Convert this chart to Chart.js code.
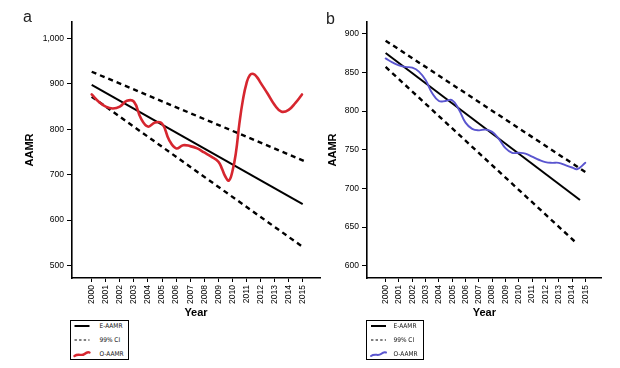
<!DOCTYPE html>
<html>
<head>
<meta charset="utf-8">
<script src="https://cdn.jsdelivr.net/npm/chart.js@4"></script>
<style>
  html, body { margin: 0; padding: 0; background: #fff; }
  body { width: 620px; height: 368px; position: relative; overflow: hidden; font-family: "Liberation Sans", Arial, sans-serif; }
  canvas { position: absolute; top: 0; }
  .panel { position: absolute; font-size: 16px; color: #222; }
  .legend { position: absolute; border: 1.5px solid #000; box-sizing: border-box; background: #fff; }
  .legend .row { position: absolute; left: 0; font-family: "Liberation Sans Narrow", "DejaVu Sans Condensed", "Liberation Sans", sans-serif; font-size: 6.5px; line-height: 8px; color: #111; }
  .legend svg { position: absolute; left: 0; top: 0; }
</style>
</head>
<body>
<canvas id="ca" width="325" height="330" style="left:0px"></canvas>
<canvas id="cb" width="290" height="330" style="left:320px"></canvas>
<div class="panel" style="left:23px;top:8px;">a</div>
<div class="panel" style="left:326px;top:10px;">b</div>

<div class="legend" id="legA" style="left:70px;top:320px;width:59px;height:40px;"></div>
<div class="legend" id="legB" style="left:366px;top:320px;width:58px;height:40px;"></div>

<script>
// ---------------- data ----------------
const xTickYears = [2000,2001,2002,2003,2004,2005,2006,2007,2008,2009,2010,2011,2012,2013,2014,2015];
const yTicksA = [500, 600, 700, 800, 900, 1000];
const yTicksB = [600, 650, 700, 750, 800, 850, 900];

// Panel a: expected trend and 99% CI (straight lines, endpoints)
const eYearsA = [2000, 2015];
const eAAMR_A = [898, 635];
const ciUpYearsA = [2000, 2015.2];
const ciUpA = [927, 729];
const ciLoYearsA = [2000, 2014.9];
const ciLoA = [872, 543];

const oYearsA = [2000,2000.5,2001,2001.5,2002,2002.5,2003,2003.5,2004,2004.5,2005,2005.5,2006,2006.5,2007,2007.5,2008,2008.5,2009,2009.25,2009.5,2009.75,2010,2010.25,2010.5,2010.75,2011,2011.25,2011.5,2011.75,2012,2012.5,2013,2013.5,2014,2014.5,2014.95];
const oAAMR_A = [877,861,850,846,850,863,861,824,806,815,813,777,758,765,763,758,749,740,729,714,696,687,707,748,813,865,901,920,922,915,903,879,854,839,843,859,877];

// Panel b: expected trend and 99% CI
const eYearsB = [2000, 2014.6];
const eAAMR_B = [875, 685];
const ciUpYearsB = [2000, 2015.1];
const ciUpB = [891, 720];
const ciLoYearsB = [2000, 2014.35];
const ciLoB = [857, 629];

// Panel b: observed AAMR
const oYearsB = [2000,2000.5,2001,2001.5,2002,2002.5,2003,2003.5,2004,2004.5,2005,2005.5,2006,2006.5,2007,2007.5,2008,2008.5,2009,2009.5,2010,2010.5,2011,2011.5,2012,2012.5,2013,2013.5,2014,2014.4,2015];
const oAAMR_B = [868,863,859,857,856,851,840,823,813,813,814,802,785,777,775,776,773,764,752,746,746,745,741,737,734,733,733,730,727,725,733];

const legendLabels = ['E-AAMR', '99% CI', 'O-AAMR'];
// --------------------------------------

const RED = '#d6262f';
const BLUE = '#5a55cf';
const tickFont = { family: '"Liberation Sans", Arial, sans-serif', size: 8.5 };
const titleFont = { family: '"Liberation Sans", Arial, sans-serif', size: 11, weight: 'bold' };

function pts(xs, ys) { return xs.map((x, i) => ({ x: x, y: ys[i] })); }

function makeChart(id, cfg) {
  const ds = [
    { label: legendLabels[0], data: pts(cfg.eX, cfg.eY), borderColor: '#000', borderWidth: 2, pointRadius: 0, order: 2 },
    { label: legendLabels[1], data: pts(cfg.upX, cfg.upY), borderColor: '#000', borderWidth: 2.4, borderDash: [5, 4], pointRadius: 0, order: 3 },
    { label: legendLabels[1], data: pts(cfg.loX, cfg.loY), borderColor: '#000', borderWidth: 2.4, borderDash: [5, 4], pointRadius: 0, order: 3 },
    { label: legendLabels[2], data: pts(cfg.oX, cfg.oY), borderColor: cfg.color, borderWidth: cfg.oWidth, pointRadius: 0, tension: 0.45, borderCapStyle: 'round', borderJoinStyle: 'round', order: 1 }
  ];
  return new Chart(document.getElementById(id), {
    type: 'line',
    data: { datasets: ds },
    options: {
      responsive: false,
      animation: false,
      devicePixelRatio: 1,
      layout: { padding: { top: 22, right: cfg.padRight, bottom: 0, left: 0 } },
      plugins: { legend: { display: false }, tooltip: { enabled: false } },
      scales: {
        x: {
          type: 'linear',
          min: 1998.6, max: 2016.23,
          afterBuildTicks: (s) => { s.ticks = xTickYears.map(v => ({ value: v })); },
          afterFit: (s) => { s.height = 52; },
          grid: { display: true, drawOnChartArea: false, drawTicks: true, tickLength: 4, color: '#000', lineWidth: 1 },
          border: { display: true, color: '#000', width: 1.6 },
          ticks: { autoSkip: false, minRotation: 90, maxRotation: 90, padding: 3, color: '#000', font: tickFont, callback: (v) => String(v) },
          title: { display: true, text: 'Year', color: '#000', font: titleFont, padding: { top: 0, bottom: 10.4 } }
        },
        y: {
          min: cfg.yMin, max: cfg.yMax,
          afterBuildTicks: (s) => { s.ticks = cfg.yTicks.map(v => ({ value: v })); },
          afterFit: (s) => { s.width = cfg.yWidth; },
          grid: { display: true, drawOnChartArea: false, drawTicks: true, tickLength: 5, color: '#000', lineWidth: 1 },
          border: { display: true, color: '#000', width: 1.6 },
          ticks: { padding: 3, color: '#000', font: tickFont, callback: (v) => Number(v).toLocaleString('en-US') },
          title: { display: true, text: 'AAMR', color: '#000', font: titleFont, padding: { top: cfg.titlePad, bottom: 0 } }
        }
      }
    }
  });
}

makeChart('ca', {
  eX: eYearsA, eY: eAAMR_A, upX: ciUpYearsA, upY: ciUpA, loX: ciLoYearsA, loY: ciLoA,
  oX: oYearsA, oY: oAAMR_A, color: RED, oWidth: 2.6,
  yMin: 472.2, yMax: 1036.7, yTicks: yTicksA, yWidth: 72, titlePad: 23, padRight: 5
});
makeChart('cb', {
  eX: eYearsB, eY: eAAMR_B, upX: ciUpYearsB, upY: ciUpB, loX: ciLoYearsB, loY: ciLoB,
  oX: oYearsB, oY: oAAMR_B, color: BLUE, oWidth: 1.9,
  yMin: 584.1, yMax: 915.1, yTicks: yTicksB, yWidth: 47, titlePad: 6.4, padRight: 8.3
});

function buildLegend(id, symLeft, textLeft, color, waveWidth) {
  const el = document.getElementById(id);
  const w = 60, h = 40;
  const rowsY = [5, 19, 33];
  const sx0 = symLeft, sx1 = symLeft + 15;
  let svg = `<svg width="${w}" height="${h}" viewBox="0 0 ${w} ${h}">`;
  svg += `<line x1="${sx0}" y1="${rowsY[0]}" x2="${sx1}" y2="${rowsY[0]}" stroke="#000" stroke-width="2"/>`;
  svg += `<line x1="${sx0}" y1="${rowsY[1]}" x2="${sx1}" y2="${rowsY[1]}" stroke="#000" stroke-width="1.2" stroke-dasharray="2.4,2.2"/>`;
  const y = rowsY[2];
  svg += `<path d="M${sx0},${y + 2} C${sx0 + 4},${y - 1} ${sx0 + 7},${y + 2.5} ${sx0 + 10},${y} S${sx1 - 1},${y - 2} ${sx1},${y - 1.5}" fill="none" stroke="${color}" stroke-width="${waveWidth}" stroke-linecap="round"/>`;
  svg += `</svg>`;
  el.innerHTML = svg + legendLabels.map((t, i) => `<div class="row" style="left:${textLeft}px;top:${rowsY[i] - 4}px">${t}</div>`).join('');
}
buildLegend('legA', 3.5, 28.5, RED, 2.4);
buildLegend('legB', 4, 26.5, BLUE, 2);
</script>
</body>
</html>
